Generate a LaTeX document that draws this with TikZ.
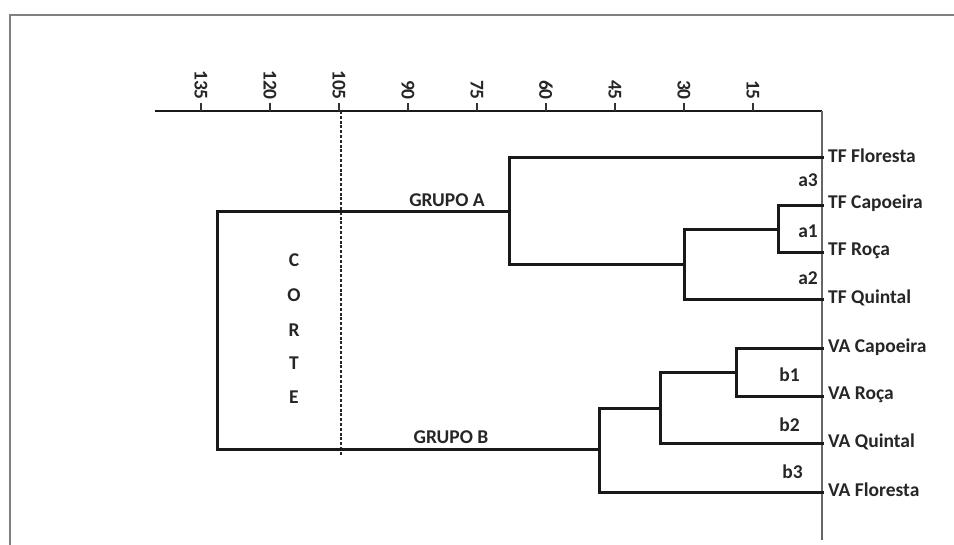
\documentclass[tikz,border=0pt]{standalone}
\usepackage{fontspec}
\setmainfont{Carlito}
\begin{document}
\begin{tikzpicture}[x=1pt,y=-1pt,
  lbl/.style={font=\bfseries\fontsize{19.5}{21}\selectfont, inner sep=0pt, text=black!85},
  leaf/.style={lbl, anchor=west},
  tiklbl/.style={lbl, rotate=-90, anchor=east},
  br/.style={line width=3pt, black!90, line join=miter, line cap=rect},
  axisline/.style={line width=2.6pt, black!90},
  frameline/.style={line width=1.8pt, black!50},
  cutline/.style={line width=1.8pt, black!85, dash pattern=on 3pt off 1.8pt}]
\useasboundingbox[fill=white] (0,0) rectangle (954,545);
% frame
\draw[frameline] (10,545) -- (10,15) -- (954,15);
% axis
\coordinate (axL) at (155,111);
\coordinate (axR) at (822,111);
\coordinate (axB) at (822,540);
\draw[axisline] (axL) -- (axR);
\draw[line width=1.8pt, black!60] (axR) -- (axB);
\foreach \v in {135,120,105,90,75,60,45,30,15}{
  \pgfmathsetmacro{\xx}{822-4.6*\v}
  \draw[line width=1.5pt, black!80] (\xx,103) -- (\xx,111);
  \node[tiklbl] (t\v) at (\xx,100) {\v};
}
% cut line
\coordinate (cutT) at (341,111);
\coordinate (cutB) at (341,455);
\draw[cutline] (cutT) -- (cutB);
% leaf tips
\coordinate (ltff) at (822,158);
\coordinate (ltfc) at (822,206);
\coordinate (ltfr) at (822,253);
\coordinate (ltfq) at (822,300);
\coordinate (lvac) at (822,349);
\coordinate (lvar) at (822,397);
\coordinate (lvaq) at (822,444);
\coordinate (lvaf) at (822,492);
% leaf labels
\node[leaf] (ntff) at (828,156) {TF Floresta};
\node[leaf] (ntfc) at (828,203) {TF Capoeira};
\node[leaf] (ntfr) at (828,251) {TF Roça};
\node[leaf] (ntfq) at (828,298) {TF Quintal};
\node[leaf] (nvac) at (828,347) {VA Capoeira};
\node[leaf] (nvar) at (828,395) {VA Roça};
\node[leaf] (nvaq) at (828,442) {VA Quintal};
\node[leaf] (nvaf) at (828,490) {VA Floresta};
% joins
\coordinate (ja1) at (778,229.5);
\coordinate (ja2) at (684,265);
\coordinate (ja3) at (509,211.5);
\coordinate (jb1) at (736,373);
\coordinate (jb2) at (660,408.5);
\coordinate (jb3) at (599,450);
\coordinate (root) at (217,330.75);
% branches group A
\draw[br] (ltfc) -| (ja1);
\draw[br] (ltfr) -| (ja1);
\draw[br] (ja1) -| (ja2);
\draw[br] (ltfq) -| (ja2);
\draw[br] (ja2) -| (ja3);
\draw[br] (ltff) -| (ja3);
% branches group B
\draw[br] (lvac) -| (jb1);
\draw[br] (lvar) -| (jb1);
\draw[br] (jb1) -| (jb2);
\draw[br] (lvaq) -| (jb2);
\draw[br] (jb2) -| (jb3);
\draw[br] (lvaf) -| (jb3);
% root
\draw[br] (ja3) -| (root);
\draw[br] (jb3) -| (root);
% cluster labels
\node[lbl, anchor=east] (la3) at (818,180) {a3};
\node[lbl, anchor=east] (la1) at (818,231) {a1};
\node[lbl, anchor=east] (la2) at (818,278) {a2};
\node[lbl, anchor=east] (lb1) at (800,375) {b1};
\node[lbl, anchor=east] (lb2) at (800,425) {b2};
\node[lbl, anchor=east] (lb3) at (803,472) {b3};
\node[lbl] (ga) at (447,200) {GRUPO A};
\node[lbl] (gb) at (451,437) {GRUPO B};
% CORTE
\node[lbl] (c1) at (294,260) {C};
\node[lbl] (c2) at (294,295) {O};
\node[lbl] (c3) at (294,330) {R};
\node[lbl] (c4) at (294,363) {T};
\node[lbl] (c5) at (294,397) {E};
\end{tikzpicture}
\end{document}
